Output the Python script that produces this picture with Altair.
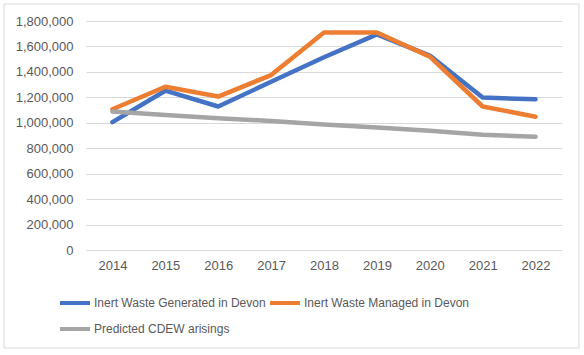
import altair as alt
import pandas as pd

years = ["2014", "2015", "2016", "2017", "2018", "2019", "2020", "2021", "2022"]
generated = [1005000, 1252000, 1128000, 1322000, 1515000, 1695000, 1528000, 1198000, 1185000]
managed = [1106000, 1283000, 1206000, 1375000, 1710000, 1710000, 1520000, 1128000, 1048000]
predicted = [1088000, 1062000, 1036000, 1014000, 986000, 962000, 938000, 906000, 890000]

series_names = ["Inert Waste Generated in Devon", "Inert Waste Managed in Devon", "Predicted CDEW arisings"]
series_colors = ["#4472C4", "#ED7D31", "#A5A5A5"]
y_ticks = [0, 200000, 400000, 600000, 800000, 1000000, 1200000, 1400000, 1600000, 1800000]

rows = []
for name, vals in zip(series_names, [generated, managed, predicted]):
    for yr, v in zip(years, vals):
        rows.append({"Year": yr, "Value": v, "Series": name})
df = pd.DataFrame(rows)

# legend grid fills column by column: order entries so rows read Generated, Managed / Predicted
legend_order = [series_names[0], series_names[2], series_names[1]]
legend_colors = [series_colors[0], series_colors[2], series_colors[1]]

FONT = "Liberation Sans"
TXT = "#595959"

lines = alt.Chart(df).mark_line(strokeWidth=4.5, strokeCap="round", strokeJoin="round").encode(
    x=alt.X("Year:N", sort=years, scale=alt.Scale(type="point", padding=0.5),
            axis=alt.Axis(title=None, domain=False, ticks=False, grid=False, labelAngle=0,
                          labelPadding=9, labelFontSize=13, labelColor=TXT, labelFont=FONT)),
    y=alt.Y("Value:Q", scale=alt.Scale(domain=[0, 1800000], nice=False),
            axis=alt.Axis(title=None, values=y_ticks, format=",.0f", domain=False, ticks=False,
                          gridColor="#D9D9D9", gridWidth=1, labelPadding=13,
                          labelFontSize=13, labelColor=TXT, labelFont=FONT)),
    color=alt.Color("Series:N",
                    scale=alt.Scale(domain=legend_order, range=legend_colors),
                    legend=alt.Legend(title=None, orient="none", legendX=-28, legendY=274,
                                      columns=2, columnPadding=2, rowPadding=10, clipHeight=16,
                                      symbolType="stroke", symbolSize=900, symbolStrokeWidth=4,
                                      labelOffset=2, labelFontSize=12, labelColor=TXT,
                                      labelFont=FONT, labelLimit=0)),
    order=alt.Order("Year:N"),
)

border = alt.Chart(pd.DataFrame({"a": [0]})).mark_rect(fill=None, stroke="#D9D9D9", strokeWidth=1).encode(
    x=alt.value(-82), x2=alt.value(493), y=alt.value(-17), y2=alt.value(327)
)

chart = alt.layer(border, lines).properties(
    width=476, height=229,
    autosize=alt.AutoSizeParams(type="none"),
    padding={"left": 86, "top": 21, "right": 22, "bottom": 105},
    background="white",
).configure_view(stroke=None)

chart.save("out.html", embed_options={"renderer": "svg", "actions": False})
